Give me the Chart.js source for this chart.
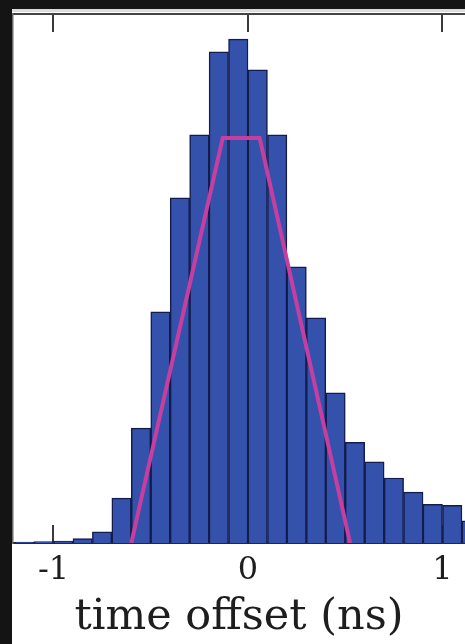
<!DOCTYPE html>
<html>
<head>
<meta charset="utf-8">
<script src="https://cdn.jsdelivr.net/npm/chart.js@4/dist/chart.umd.min.js"></script>
<style>
  html, body { margin: 0; padding: 0; background: #141414; overflow: hidden; }
  #wrap { position: absolute; left: 0; top: 0; width: 465px; height: 644px; }
</style>
</head>
<body>
<div id="wrap"><canvas id="c" width="465" height="644"></canvas></div>
<script>
// Histogram of arrival-time offsets, 0.1 ns bins (bin centres in ns)
const binCenters = [-1.15, -1.05, -0.95, -0.85, -0.75, -0.65, -0.55, -0.45, -0.35, -0.25,
                    -0.15, -0.05, 0.05, 0.15, 0.25, 0.35, 0.45, 0.55, 0.65, 0.75,
                    0.85, 0.95, 1.05, 1.15];
const binCounts  = [2, 3, 4, 9, 22, 89, 228, 459, 685, 810,
                    975, 1000, 939, 810, 548, 447, 298, 200, 161, 129,
                    101, 77, 75, 44];

// Trapezoidal reference window
const windowX = [-0.60, -0.13, 0.06, 0.525];
const windowY = [0, 804, 804, 0];

// Axis ticks
const tickValues = [-1, 0, 1];
const xRange = [-1.2082, 1.1157];
const yMax = 1050;

const histData = binCenters.map((x, i) => ({ x: x, y: binCounts[i] }));
const windowData = windowX.map((x, i) => ({ x: x, y: windowY[i] }));

const backdrop = {
  id: 'backdrop',
  beforeDraw(chart) {
    const ctx = chart.ctx;
    ctx.save();
    ctx.fillStyle = '#141414';
    ctx.fillRect(0, 0, chart.width, chart.height);
    ctx.fillStyle = '#ffffff';
    ctx.fillRect(12, 9, chart.width - 12, chart.height - 9);
    ctx.fillStyle = '#dcdcdc';
    ctx.fillRect(12, 9, chart.width - 12, 3);
    ctx.restore();
  }
};

const fixedTicks = (scale) => { scale.ticks = tickValues.map(v => ({ value: v })); };
const noSidePadding = (s) => { s.paddingLeft = 0; s.paddingRight = 0; };

new Chart(document.getElementById('c'), {
  type: 'bar',
  data: {
    datasets: [
      {
        type: 'line',
        data: windowData,
        borderColor: 'rgb(198,62,160)',
        borderWidth: 4,
        borderJoinStyle: 'miter',
        pointRadius: 0,
        tension: 0,
        fill: false,
        order: 0
      },
      {
        type: 'bar',
        data: histData,
        backgroundColor: 'rgb(52,82,172)',
        borderColor: 'rgb(20,28,78)',
        borderWidth: 1.5,
        barPercentage: 1,
        categoryPercentage: 1,
        order: 1
      }
    ]
  },
  options: {
    responsive: false,
    animation: false,
    events: [],
    layout: { padding: { left: 13, top: 14, right: 0, bottom: 0 } },
    plugins: { legend: { display: false }, tooltip: { enabled: false } },
    scales: {
      x: {
        type: 'linear',
        position: 'bottom',
        min: xRange[0],
        max: xRange[1],
        offset: false,
        afterBuildTicks: fixedTicks,
        afterFit: (s) => { s.height = 101; noSidePadding(s); },
        grid: { display: true, drawOnChartArea: false, drawTicks: true, tickLength: -18, offset: false, color: '#3a3a3a', lineWidth: 2 },
        border: { display: true, color: '#2a2a2a', width: 2 },
        ticks: {
          padding: 26,
          color: '#1e1e1e',
          font: { family: 'DejaVu Serif', size: 32 },
          callback: (v) => String(v)
        },
        title: {
          display: true,
          text: 'time offset (ns)',
          color: '#1e1e1e',
          font: { family: 'DejaVu Serif', size: 43 },
          padding: { top: 0, bottom: 0 }
        }
      },
      x2: {
        type: 'linear',
        position: 'top',
        min: xRange[0],
        max: xRange[1],
        offset: false,
        afterBuildTicks: fixedTicks,
        afterFit: (s) => { s.height = 0; noSidePadding(s); },
        grid: { display: true, drawOnChartArea: false, drawTicks: true, tickLength: -18, offset: false, color: '#3a3a3a', lineWidth: 2 },
        border: { display: true, color: '#444444', width: 2 },
        ticks: { display: false }
      },
      y: {
        type: 'linear',
        min: 0,
        max: yMax,
        afterFit: (s) => { s.width = 0; },
        grid: { display: false },
        border: { display: true, color: '#6a6a6a', width: 1.5 },
        ticks: { display: false }
      }
    }
  },
  plugins: [backdrop]
});
</script>
</body>
</html>
